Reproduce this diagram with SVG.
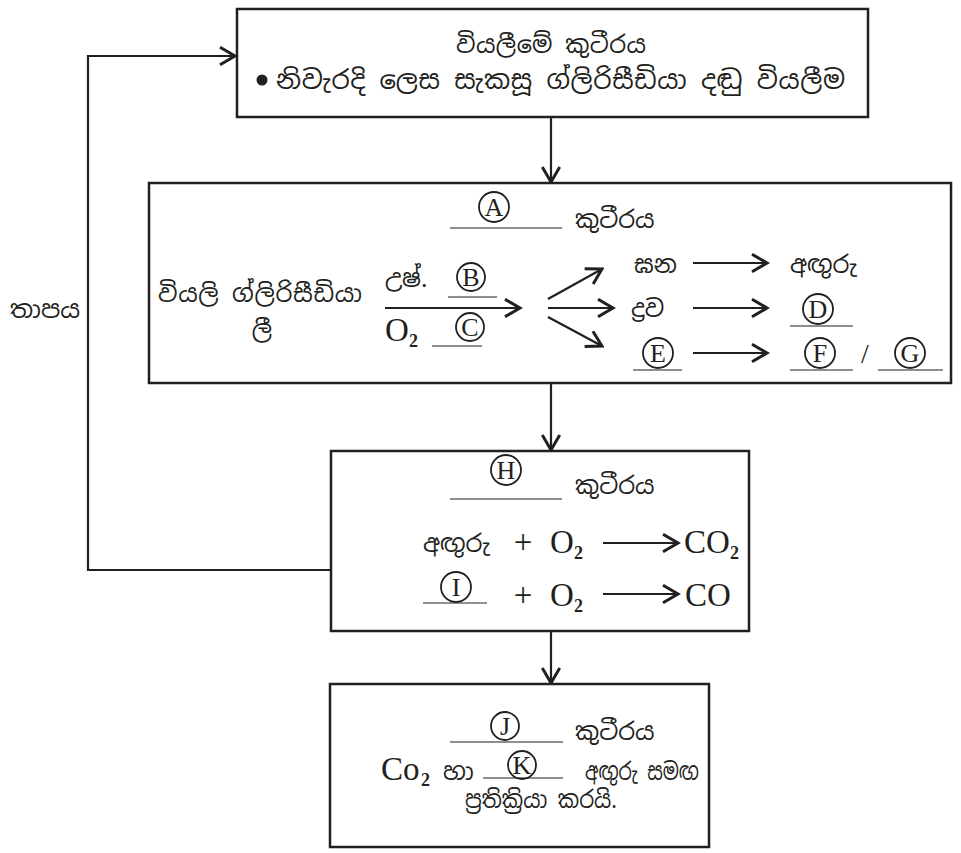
<svg xmlns="http://www.w3.org/2000/svg" width="961" height="853" viewBox="0 0 961 853">
  <style>
    .box { fill: #ffffff; stroke: #231f20; stroke-width: 2.5; }
    .ln { fill: none; stroke: #231f20; stroke-width: 2.2; }
    .ul { fill: none; stroke: #231f20; stroke-width: 1.2; }
    .cl { fill: none; stroke: #231f20; stroke-width: 1.8; }
    .si { font-family: "Noto Sans Sinhala", "Noto Serif Sinhala", "Iskoola Pota", "Noto Sans", sans-serif; font-size: 24px; fill: #231f20; }
    .lt { font-family: "Liberation Serif", "Times New Roman", serif; font-size: 33px; fill: #231f20; }
    .sub { font-family: "Liberation Serif", "Times New Roman", serif; font-size: 18px; font-weight: bold; fill: #231f20; }
    .cc { font-family: "Liberation Serif", "Times New Roman", serif; font-size: 26px; fill: #231f20; text-anchor: middle; }
    .mid { text-anchor: middle; }
  </style>
  <defs>
    <marker id="arr" markerUnits="userSpaceOnUse" markerWidth="20" markerHeight="20" refX="14" refY="8" orient="auto" viewBox="0 0 16 16">
      <path d="M2,1 L14,8 L2,15" fill="none" stroke="#231f20" stroke-width="2.4"/>
    </marker>
  </defs>

  <!-- connectors between chambers, plus the heat return loop -->
  <g id="connectors">
    <line class="ln" x1="551" y1="117" x2="551" y2="182" marker-end="url(#arr)"/>
    <line class="ln" x1="551" y1="383" x2="551" y2="450" marker-end="url(#arr)"/>
    <line class="ln" x1="551" y1="631" x2="551" y2="683" marker-end="url(#arr)"/>
    <polyline class="ln" points="333,570 88,570 88,56 235,56" marker-end="url(#arr)"/>
    <text class="si" x="10" y="318" textLength="70" lengthAdjust="spacingAndGlyphs">තාපය</text>
  </g>

  <!-- drying chamber -->
  <g id="drying">
    <rect class="box" x="237" y="9" width="631" height="108"/>
    <text class="si mid" x="551" y="53" textLength="190">වියලීමේ කුටීරය</text>
    <circle cx="262" cy="80" r="5.5" fill="#231f20"/>
    <text class="si" x="276" y="89" textLength="569" style="font-size:26px">නිවැරදි ලෙස සැකසූ ග්ලිරිසීඩියා දඬු වියලීම</text>
  </g>

  <!-- chamber A -->
  <g id="chamberA">
    <rect class="box" x="149" y="183" width="802" height="200"/>
    <circle class="cl" cx="494" cy="207" r="15"/><text class="cc" x="494" y="216">A</text>
    <line class="ul" x1="450" y1="228" x2="562" y2="228"/>
    <text class="si" x="575" y="228">කුටීරය</text>

    <text class="si" x="158" y="302" textLength="204">වියලි ග්ලිරිසීඩියා</text>
    <text class="si mid" x="262" y="338">ලී</text>

    <text class="si" x="385" y="287">උෂ්.</text>
    <circle class="cl" cx="471" cy="277" r="14"/><text class="cc" x="471" y="286">B</text>
    <line class="ul" x1="448" y1="297" x2="497" y2="297"/>
    <line class="ln" x1="385" y1="308" x2="520" y2="308" marker-end="url(#arr)"/>
    <text class="lt" x="385" y="341">O</text><text class="sub" x="409" y="347">2</text>
    <circle class="cl" cx="470" cy="327" r="14"/><text class="cc" x="470" y="336">C</text>
    <line class="ul" x1="432" y1="346" x2="482" y2="346"/>

    <line class="ln" x1="548" y1="299" x2="602" y2="269" marker-end="url(#arr)"/>
    <line class="ln" x1="548" y1="308" x2="613" y2="308" marker-end="url(#arr)"/>
    <line class="ln" x1="548" y1="317" x2="602" y2="346" marker-end="url(#arr)"/>

    <text class="si" x="634" y="273">ඝන</text>
    <line class="ln" x1="693" y1="263" x2="767" y2="263" marker-end="url(#arr)"/>
    <text class="si" x="790" y="273">අඟුරු</text>

    <text class="si" x="631" y="317">ද්‍රව</text>
    <line class="ln" x1="693" y1="308" x2="767" y2="308" marker-end="url(#arr)"/>
    <circle class="cl" cx="818" cy="309" r="15"/><text class="cc" x="818" y="318">D</text>
    <line class="ul" x1="790" y1="326" x2="853" y2="326"/>

    <circle class="cl" cx="658" cy="353" r="15"/><text class="cc" x="658" y="362">E</text>
    <line class="ul" x1="633" y1="370" x2="682" y2="370"/>
    <line class="ln" x1="693" y1="353" x2="767" y2="353" marker-end="url(#arr)"/>
    <circle class="cl" cx="820" cy="353" r="15"/><text class="cc" x="820" y="362">F</text>
    <line class="ul" x1="790" y1="370" x2="853" y2="370"/>
    <text class="lt mid" x="865" y="363" style="font-size:28px">/</text>
    <circle class="cl" cx="910" cy="353" r="15"/><text class="cc" x="910" y="362">G</text>
    <line class="ul" x1="878" y1="370" x2="943" y2="370"/>
  </g>

  <!-- chamber H -->
  <g id="chamberH">
    <rect class="box" x="331" y="451" width="418" height="180"/>
    <circle class="cl" cx="506" cy="470" r="15"/><text class="cc" x="506" y="479">H</text>
    <line class="ul" x1="450" y1="499" x2="562" y2="499"/>
    <text class="si" x="575" y="494">කුටීරය</text>

    <text class="si" x="423" y="552">අඟුරු</text>
    <text class="lt mid" x="523" y="553">+</text>
    <text class="lt" x="550" y="553">O</text><text class="sub" x="574" y="559">2</text>
    <line class="ln" x1="603" y1="543" x2="678" y2="543" marker-end="url(#arr)"/>
    <text class="lt" x="684" y="553">CO</text><text class="sub" x="730" y="559">2</text>

    <circle class="cl" cx="456" cy="587" r="15"/><text class="cc" x="456" y="596">I</text>
    <line class="ul" x1="423" y1="603" x2="487" y2="603"/>
    <text class="lt mid" x="523" y="606">+</text>
    <text class="lt" x="550" y="606">O</text><text class="sub" x="574" y="612">2</text>
    <line class="ln" x1="603" y1="594" x2="678" y2="594" marker-end="url(#arr)"/>
    <text class="lt" x="685" y="606">CO</text>
  </g>

  <!-- chamber J -->
  <g id="chamberJ">
    <rect class="box" x="330" y="684" width="379" height="163"/>
    <circle class="cl" cx="505" cy="726" r="14"/><text class="cc" x="505" y="735">J</text>
    <line class="ul" x1="450" y1="742" x2="563" y2="742"/>
    <text class="si" x="575" y="740">කුටීරය</text>

    <text class="lt" x="381" y="780">Co</text><text class="sub" x="421" y="786">2</text>
    <text class="si" x="443" y="780">හා</text>
    <circle class="cl" cx="522" cy="765" r="14"/><text class="cc" x="522" y="774">K</text>
    <line class="ul" x1="483" y1="778" x2="563" y2="778"/>
    <text class="si" x="585" y="780" textLength="114" lengthAdjust="spacingAndGlyphs">අඟුරු සමඟ</text>

    <text class="si" x="465" y="808" textLength="152" lengthAdjust="spacingAndGlyphs">ප්‍රතික්‍රියා කරයි.</text>
  </g>
</svg>
